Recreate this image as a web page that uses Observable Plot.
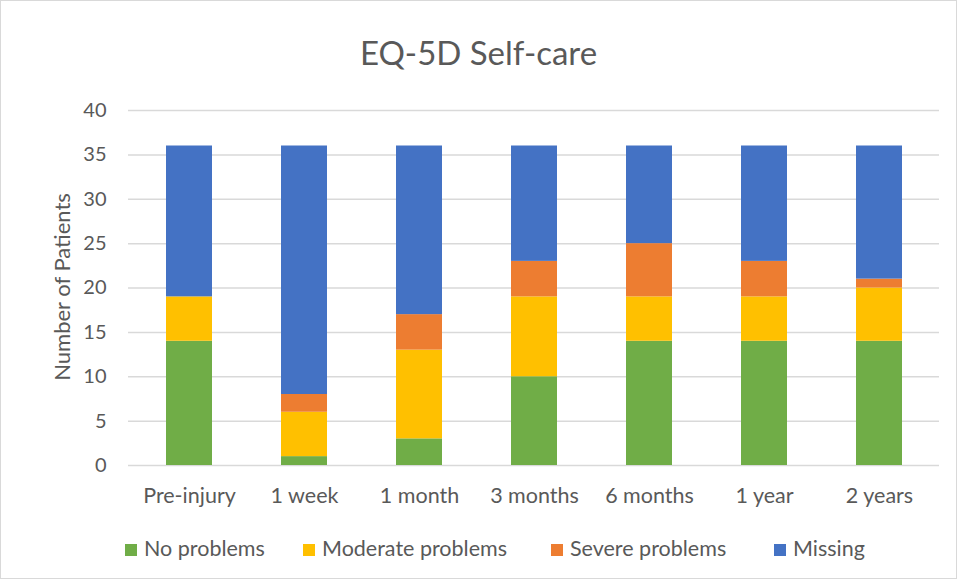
<!DOCTYPE html>
<html>
<head>
<meta charset="utf-8">
<script src="https://cdn.jsdelivr.net/npm/d3@7"></script>
<script src="https://cdn.jsdelivr.net/npm/@observablehq/plot@0.6"></script>
<style>
  body { margin: 0; background: #fff; }
  #wrap { position: relative; width: 955px; height: 577px; border: 1px solid #d9d9d9; font-family: Lato, "Open Sans", sans-serif; color: #595959; overflow: hidden; }
  #title { position: absolute; left: 0; width: 100%; top: 31px; text-align: center; font-size: 33px; color: #595959; }
  #ylab { position: absolute; left: 60px; top: 286px; transform: translate(-50%, -50%) rotate(-90deg); font-size: 22px; white-space: nowrap; }
  #chart { position: absolute; left: 0; top: 0; }
  #legend { position: absolute; top: 534px; left: 0; width: 100%; font-size: 21.5px; }
  .li { position: absolute; top: 0; white-space: nowrap; }
  .sw { display: inline-block; width: 12px; height: 12px; margin-right: 7px; vertical-align: 0px; }
</style>
</head>
<body>
<div id="wrap">
  <div id="chart"></div>
  <div id="title">EQ-5D Self-care</div>
  <div id="ylab">Number of Patients</div>
  <div id="legend"></div>
</div>
<script>
const timepoints = ["Pre-injury", "1 week", "1 month", "3 months", "6 months", "1 year", "2 years"];
const categories = ["No problems", "Moderate problems", "Severe problems", "Missing"];
const colors = ["#70ad47", "#ffc000", "#ed7d31", "#4472c4"];
const noProblems = [14, 1, 3, 10, 14, 14, 14];
const moderateProblems = [5, 5, 10, 9, 5, 5, 6];
const severeProblems = [0, 2, 4, 4, 6, 4, 1];
const missing = [17, 28, 19, 13, 11, 13, 15];
const yTicks = [0, 5, 10, 15, 20, 25, 30, 35, 40];

const series = [noProblems, moderateProblems, severeProblems, missing];
const data = [];
timepoints.forEach((t, i) => {
  categories.forEach((c, j) => data.push({time: t, category: c, value: series[j][i]}));
});

const chart = Plot.plot({
  width: 955,
  height: 520,
  marginLeft: 127,
  marginRight: 17,
  marginTop: 109,
  marginBottom: 56,
  style: {fontFamily: "Lato, 'Open Sans', sans-serif", fontSize: "21px", color: "#595959", background: "transparent"},
  x: {domain: timepoints, paddingInner: 0.6, paddingOuter: 0.3, label: null},
  y: {domain: [0, 40], ticks: yTicks, label: null},
  color: {domain: categories, range: colors},
  marks: [
    Plot.gridY(yTicks, {stroke: "#d9d9d9", strokeOpacity: 1, strokeWidth: 1.5}),
    Plot.barY(data, {x: "time", y: "value", fill: "category", order: categories}),
    Plot.axisY({ticks: yTicks, tickSize: 0, tickPadding: 22, label: null, fontSize: 20}),
    Plot.axisX({tickSize: 0, tickPadding: 22, label: null, fontSize: 21.5})
  ]
});
document.getElementById("chart").appendChild(chart);

const legendX = [124, 302, 550, 773];
const legend = document.getElementById("legend");
categories.forEach((c, i) => {
  const d = document.createElement("div");
  d.className = "li";
  d.style.left = legendX[i] + "px";
  d.innerHTML = `<span class="sw" style="background:${colors[i]}"></span>${c}`;
  legend.appendChild(d);
});
</script>
</body>
</html>
